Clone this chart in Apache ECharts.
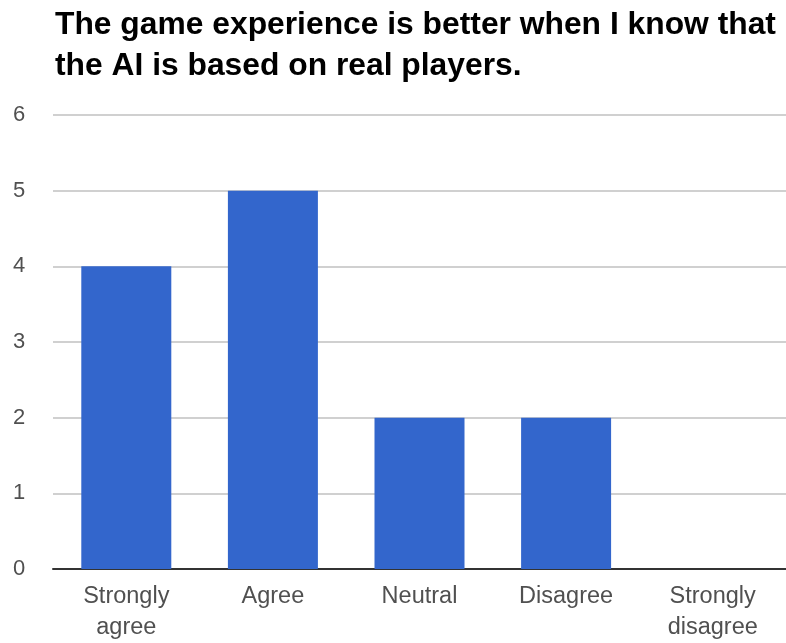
<!DOCTYPE html>
<html>
<head>
<meta charset="utf-8">
<script src="https://cdn.jsdelivr.net/npm/echarts@6/dist/echarts.min.js"></script>
<style>
  html, body { margin: 0; padding: 0; background: #fff; overflow: hidden; }
  #chart { width: 786px; height: 643px; }
</style>
</head>
<body>
<div id="chart"></div>
<script>
const titleText = 'The game experience is better when I know that\nthe AI is based on real players.';
const categories = ['Strongly\nagree', 'Agree', 'Neutral', 'Disagree', 'Strongly\ndisagree'];
const responses = [4, 5, 2, 2, 0];
const yTicks = [0, 1, 2, 3, 4, 5, 6];

const font = 'Liberation Sans, Arial, sans-serif';

const chart = echarts.init(document.getElementById('chart'), null, { renderer: 'canvas' });
chart.setOption({
  animation: false,
  backgroundColor: '#ffffff',
  title: {
    text: titleText,
    left: 55,
    top: 5,
    padding: 0,
    textStyle: {
      fontFamily: font,
      fontWeight: 'bold',
      fontSize: 31.8,
      lineHeight: 41,
      color: '#000'
    }
  },
  // plot area runs slightly past the right edge so the last category is cut off
  grid: { left: 53, width: 742, top: 115, bottom: 72, containLabel: false },
  xAxis: {
    type: 'category',
    data: categories,
    axisLine: { lineStyle: { color: '#333', width: 2 } },
    axisTick: { show: false },
    axisLabel: {
      fontFamily: font,
      fontSize: 23.5,
      lineHeight: 31,
      color: '#505050',
      margin: 12,
      interval: 0
    }
  },
  yAxis: {
    type: 'value',
    min: yTicks[0],
    max: yTicks[yTicks.length - 1],
    interval: 1,
    axisLine: { show: false },
    axisTick: { show: false },
    splitLine: { lineStyle: { color: '#d0d0d0', width: 2 } },
    axisLabel: {
      fontFamily: font,
      fontSize: 22,
      color: '#505050',
      align: 'left',
      margin: 40
    }
  },
  series: [{
    type: 'bar',
    data: responses,
    barWidth: 90,
    itemStyle: { color: '#3366cc' }
  }]
});
</script>
</body>
</html>
